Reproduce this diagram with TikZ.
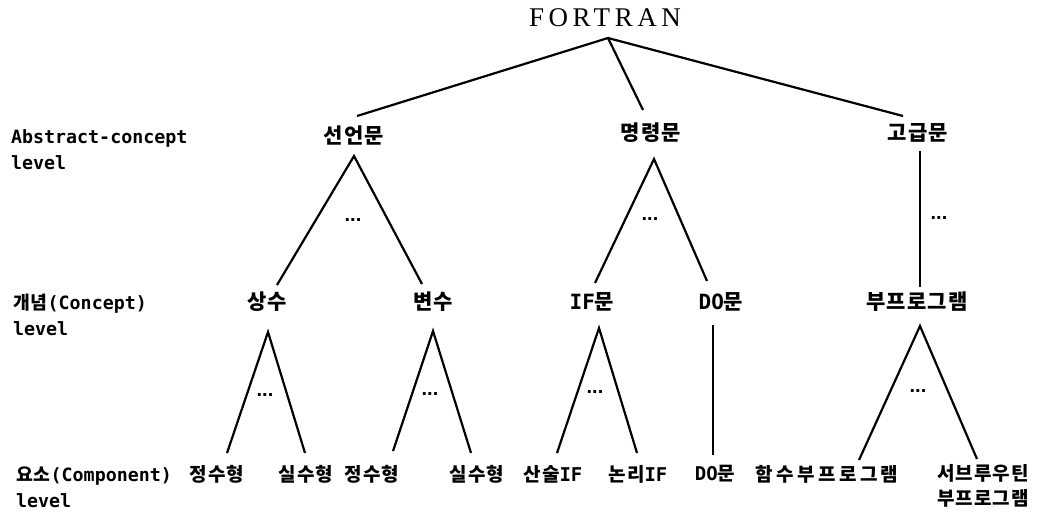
\documentclass[tikz,border=0pt]{standalone}
\usepackage{fontspec}
\setmonofont{DejaVu Sans Mono}
\newfontfamily\korfont{Noto Sans CJK KR}[LetterSpace=5]
\newfontfamily\titlefont{Liberation Serif}[LetterSpace=17]
\newfontfamily\dotfont{Liberation Sans}

\begin{document}
\begin{tikzpicture}[x=1pt,y=-1pt,line width=2.2pt,
    kor/.style={font={\korfont\bfseries\fontsize{21}{25}\selectfont},inner sep=0pt,align=center},
    korlow/.style={font={\korfont\bfseries\fontsize{19}{25}\selectfont},inner sep=0pt,align=center},
    lvl/.style={font={\ttfamily\bfseries\fontsize{18.3}{26}\selectfont},align=left,anchor=west,inner sep=0pt},
    more/.style={font={\dotfont\bfseries\fontsize{20}{20}\selectfont},inner sep=0pt}]
      \useasboundingbox (0,0) rectangle (1043,515);

      \node[font={\titlefont\fontsize{27}{27}\selectfont},inner sep=0pt] (fortran) at (605,18) {FORTRAN};

      \node[lvl] (lvl1) at (10,150) {Abstract-concept\\level};
      \node[lvl] (lvl2) at (12,315) {{\korfont 개념}(Concept)\\level};
      \node[lvl] (lvl3) at (15,487) {{\korfont 요소}(Component)\\level};

      \node[kor] (decl) at (354,135) {선언문};
      \node[kor] (exec) at (651,133) {명령문};
      \node[kor] (adv) at (918,133) {고급문};

      \node[kor] (const) at (267,302) {상수};
      \node[kor] (var) at (433,302) {변수};
      \node[kor] (ifst) at (592,302) {{\ttfamily IF}문};
      \node[kor] (dost) at (721,302) {{\ttfamily DO}문};
      \node[kor] (sub) at (917,302) {부프로그램};

      \node[korlow] (int1) at (217,474) {정수형};
      \node[korlow] (real1) at (306,474) {실수형};
      \node[korlow] (int2) at (372,474) {정수형};
      \node[korlow] (real2) at (477,474) {실수형};
      \node[korlow] (arith) at (553,474) {산술{\ttfamily IF}};
      \node[korlow] (logic) at (638,474) {논리{\ttfamily IF}};
      \node[korlow] (do2) at (715,474) {{\ttfamily DO}문};
      \node[korlow] (func) at (827,474) {\addfontfeature{LetterSpace=18}함수부프로그램};
      \node[korlow] (subr) at (983,486) {서브루우틴\\부프로그램};

      \node[more] (m1) at (353,220) {...};
      \node[more] (m2) at (650,219) {...};
      \node[more] (m3) at (939,218) {...};
      \node[more] (m4) at (265,395) {...};
      \node[more] (m5) at (430,394) {...};
      \node[more] (m6) at (595,392) {...};
      \node[more] (m7) at (918,391) {...};

      \draw ([xshift=3pt,yshift=19pt]decl.center) -- ([xshift=3pt,yshift=-20pt]fortran.center)
            -- ([xshift=-8pt,yshift=23pt]exec.center);
      \draw ([xshift=3pt,yshift=-20pt]fortran.center) -- ([xshift=-15pt,yshift=17pt]adv.center);

      \draw ([xshift=10pt,yshift=17pt]const.center) -- ([yshift=-21pt]decl.center)
            -- ([xshift=-11pt,yshift=18pt]var.center);
      \draw ([xshift=3pt,yshift=19pt]ifst.center) -- ([xshift=3pt,yshift=-26pt]exec.center)
            -- ([xshift=-14pt,yshift=21pt]dost.center);
      \draw ([xshift=2pt,yshift=-18pt]adv.center) -- ([xshift=3pt,yshift=15pt]sub.center);

      \draw ([xshift=10pt,yshift=21pt]int1.center) -- ([xshift=1pt,yshift=-30pt]const.center)
            -- ([xshift=-1pt,yshift=21pt]real1.center);
      \draw ([xshift=21pt,yshift=23pt]int2.center) -- ([yshift=-29pt]var.center)
            -- ([xshift=-6pt,yshift=21pt]real2.center);
      \draw ([xshift=4pt,yshift=21pt]arith.center) -- ([xshift=7pt,yshift=-26pt]ifst.center)
            -- ([xshift=-1pt,yshift=21pt]logic.center);
      \draw ([xshift=-8pt,yshift=-23pt]dost.center) -- ([xshift=-2pt,yshift=19pt]do2.center);
      \draw ([xshift=32pt,yshift=14pt]func.center) -- ([xshift=3pt,yshift=-24pt]sub.center)
            -- ([xshift=-6pt,yshift=27pt]subr.center);

    \end{tikzpicture}
\end{document}
